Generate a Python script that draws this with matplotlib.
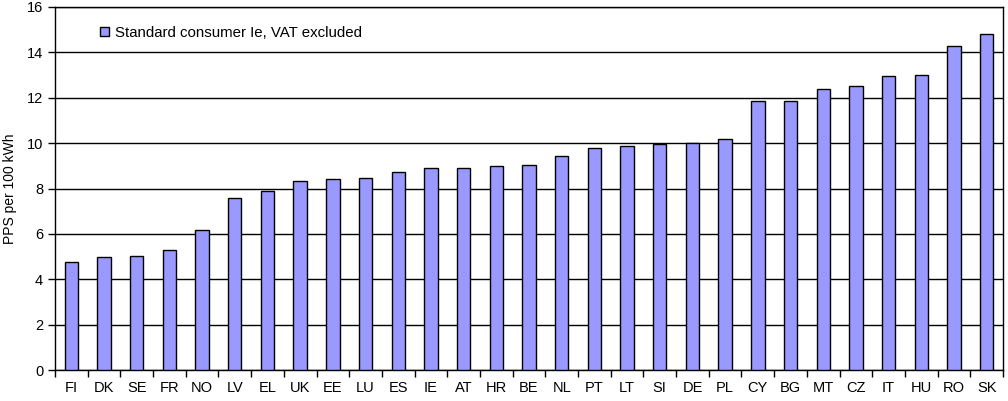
import matplotlib
matplotlib.use("Agg")
import matplotlib.pyplot as plt
import numpy as np

COUNTRIES = ["FI", "DK", "SE", "FR", "NO", "LV", "EL", "UK", "EE", "LU",
             "ES", "IE", "AT", "HR", "BE", "NL", "PT", "LT", "SI", "DE",
             "PL", "CY", "BG", "MT", "CZ", "IT", "HU", "RO", "SK"]
PRICES = [4.75, 4.97, 5.02, 5.27, 6.17, 7.6, 7.91, 8.34, 8.43, 8.47,
          8.73, 8.9, 8.9, 8.98, 9.04, 9.43, 9.79, 9.88, 9.97, 10.02,
          10.18, 11.85, 11.85, 12.38, 12.52, 12.97, 13.0, 14.3, 14.8]
SERIES_LABEL = "Standard consumer Ie, VAT excluded"
Y_LABEL = "PPS per 100 kWh"

plt.rcParams["font.family"] = ["Liberation Sans", "DejaVu Sans"]

fig = plt.figure(figsize=(10.08, 4.01), dpi=100)
ax = fig.add_axes([55 / 1008, 31 / 401, 948 / 1008, 363 / 401])

x = np.arange(len(COUNTRIES))
ax.bar(x, PRICES, width=0.41, color="#9999ff", edgecolor="black",
       linewidth=1.0, label=SERIES_LABEL, zorder=3)

ax.set_xlim(-0.5, len(COUNTRIES) - 0.5)
ax.set_ylim(0, 16)
ax.set_yticks(range(0, 17, 2))
ax.yaxis.grid(True, color="black", linewidth=1.0, zorder=0)
ax.set_axisbelow(True)

ax.set_xticks(x)
ax.set_xticklabels(COUNTRIES, fontsize=10.5)
ax.set_xticks(np.arange(-0.5, len(COUNTRIES), 1.0), minor=True)
ax.tick_params(axis="x", which="major", length=0, pad=8)
ax.tick_params(axis="x", which="minor", length=5, width=1, direction="out")
ax.tick_params(axis="y", length=5, width=1, direction="out", labelsize=10.5)
ax.set_ylabel(Y_LABEL, fontsize=10, labelpad=7)

for spine in ax.spines.values():
    spine.set_linewidth(1.0)

leg = ax.legend(loc="upper left", bbox_to_anchor=(0.033, 0.985), frameon=False,
                fontsize=10.8, handlelength=0.6, handleheight=0.6,
                handletextpad=0.4)

fig.savefig("out.png", dpi=100)
